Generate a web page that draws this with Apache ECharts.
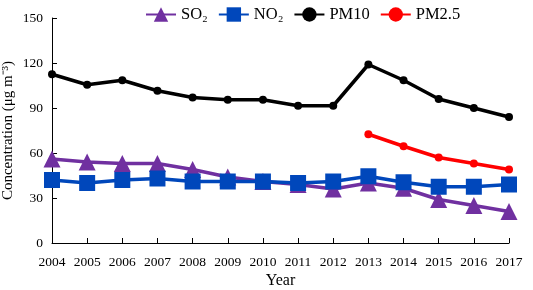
<!DOCTYPE html>
<html>
<head>
<meta charset="utf-8">
<script src="https://cdn.jsdelivr.net/npm/echarts@6/dist/echarts.min.js"></script>
<style>
html,body{margin:0;padding:0;background:#fff;}
#chart{width:533px;height:290px;}
</style>
</head>
<body>
<div id="chart"></div>
<script>
var years = ['2004','2005','2006','2007','2008','2009','2010','2011','2012','2013','2014','2015','2016','2017'];
var so2 = [56, 54, 53, 53, 49, 44, 41, 39, 36, 40, 36.5, 29, 25, 21];
var no2 = [42, 40, 42, 43, 41, 41, 41, 40, 41, 44.5, 40.5, 37.5, 37.5, 39];
var pm10 = [112.5, 105.5, 108.5, 101.5, 97, 95.5, 95.5, 91.5, 91.5, 119, 108.5, 96, 90, 84];
var pm25 = [null, null, null, null, null, null, null, null, null, 72.5, 64.5, 57, 53, 49];

var font = '"Liberation Serif", "Times New Roman", serif';

var chart = echarts.init(document.getElementById('chart'));
var option = {
    animation: false,
    textStyle: {fontFamily: font, color: '#000'},
    legend: {
        top: 1,
        left: 140,
        itemWidth: 30,
        itemHeight: 18,
        itemGap: 10,
        textStyle: {fontFamily: font, fontSize: 16.5, color: '#000'},
        data: ['SO₂', 'NO₂', 'PM10', 'PM2.5']
    },
    grid: {left: 52, right: 24, top: 18, bottom: 47, outerBoundsMode: 'none'},
    xAxis: {
        type: 'category',
        boundaryGap: false,
        data: years,
        name: 'Year',
        nameLocation: 'middle',
        nameGap: 30,
        nameMoveOverlap: false,
        nameTextStyle: {fontFamily: font, fontSize: 16, color: '#000'},
        axisLine: {lineStyle: {color: '#000', width: 1}},
        axisTick: {inside: true, length: 5, alignWithLabel: true, lineStyle: {color: '#000'}},
        axisLabel: {interval: 0, fontFamily: font, fontSize: 13.5, color: '#000', margin: 12}
    },
    yAxis: {
        type: 'value',
        min: 0,
        max: 150,
        interval: 30,
        name: 'Concentration (μg m⁻³)',
        nameLocation: 'middle',
        nameGap: 36,
        nameMoveOverlap: false,
        nameTextStyle: {fontFamily: font, fontSize: 15, color: '#000'},
        axisLine: {show: true, lineStyle: {color: '#000', width: 1}},
        axisTick: {show: true, inside: true, length: 5, lineStyle: {color: '#000'}},
        splitLine: {show: false},
        axisLabel: {fontFamily: font, fontSize: 13.5, color: '#000', margin: 9}
    },
    series: [
        {
            name: 'SO₂',
            type: 'line',
            data: so2,
            symbol: 'triangle',
            symbolSize: 17,
            lineStyle: {color: '#7030A0', width: 3.5},
            itemStyle: {color: '#7030A0'}
        },
        {
            name: 'NO₂',
            type: 'line',
            data: no2,
            symbol: 'rect',
            symbolSize: 16,
            lineStyle: {color: '#0047BB', width: 3.5},
            itemStyle: {color: '#0047BB'}
        },
        {
            name: 'PM10',
            type: 'line',
            data: pm10,
            symbol: 'circle',
            symbolSize: 8,
            lineStyle: {color: '#000', width: 3.5},
            itemStyle: {color: '#000'}
        },
        {
            name: 'PM2.5',
            type: 'line',
            data: pm25,
            symbol: 'circle',
            symbolSize: 8,
            lineStyle: {color: '#FF0000', width: 3.5},
            itemStyle: {color: '#FF0000'}
        }
    ]
};
chart.setOption(option);
</script>
</body>
</html>
